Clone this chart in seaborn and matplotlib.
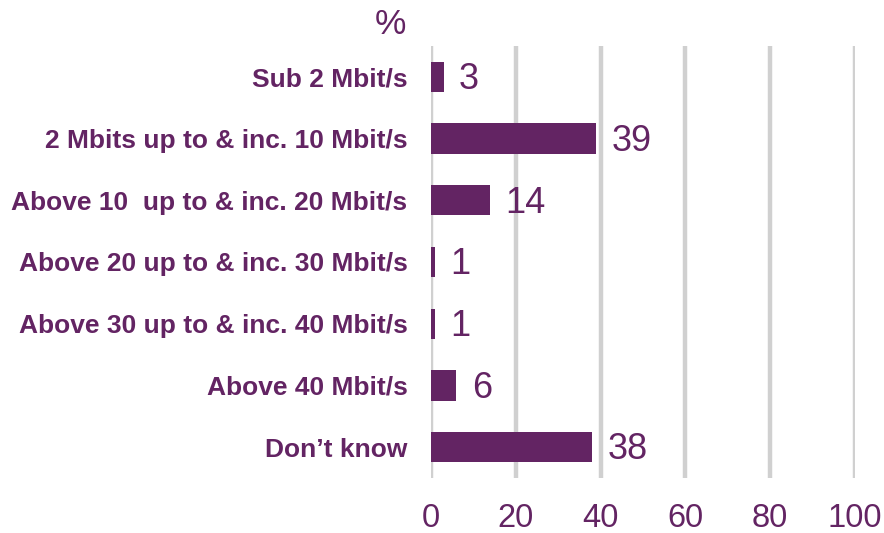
import matplotlib
matplotlib.use("Agg")
import matplotlib.pyplot as plt
import seaborn as sns
import pandas as pd

categories = [
    "Sub 2 Mbit/s",
    "2 Mbits up to & inc. 10 Mbit/s",
    "Above 10  up to & inc. 20 Mbit/s",
    "Above 20 up to & inc. 30 Mbit/s",
    "Above 30 up to & inc. 40 Mbit/s",
    "Above 40 Mbit/s",
    "Don\u2019t know",
]
values = [3, 39, 14, 1, 1, 6, 38]
x_ticks = [0, 20, 40, 60, 80, 100]

purple = "#632463"
grid_grey = "#D0D0D0"

sns.set_theme(style="white")
plt.rcParams["font.family"] = ["Liberation Sans", "DejaVu Sans"]

df = pd.DataFrame({"category": categories, "value": values})

fig = plt.figure(figsize=(8.84, 5.33), dpi=100)
ax = fig.add_axes([0.4876, 0.1032, 0.4796, 0.8105])

sns.barplot(data=df, x="value", y="category", orient="h", color=purple,
            saturation=1, width=0.49, linewidth=0, ax=ax, zorder=3)

ax.set_xlim(0, 100)
ax.set_ylim(len(categories) - 0.5, -0.5)
ax.set_xticks(x_ticks)
ax.set_xticklabels([str(t) for t in x_ticks])
ax.set_xlabel("")
ax.set_ylabel("")

for xv in x_ticks:
    ax.axvline(xv, color=grid_grey, lw=3.2, zorder=1)

for s in ax.spines.values():
    s.set_visible(False)

ax.tick_params(axis="x", length=0, pad=18, labelsize=23.5, labelcolor=purple)
ax.tick_params(axis="y", length=0, pad=17, labelcolor=purple)
for lbl in ax.get_yticklabels():
    lbl.set_fontweight("bold")
    lbl.set_fontsize(19)

for i, v in enumerate(values):
    ax.annotate(str(v), xy=(v, i), xytext=(11, -2), textcoords="offset points",
                ha="left", va="center", fontsize=26, color=purple)

fig.text(390 / 884, 1 - 24 / 533, "%", ha="center", va="center",
         fontsize=25.5, color=purple)

fig.savefig("out.png", dpi=100)
